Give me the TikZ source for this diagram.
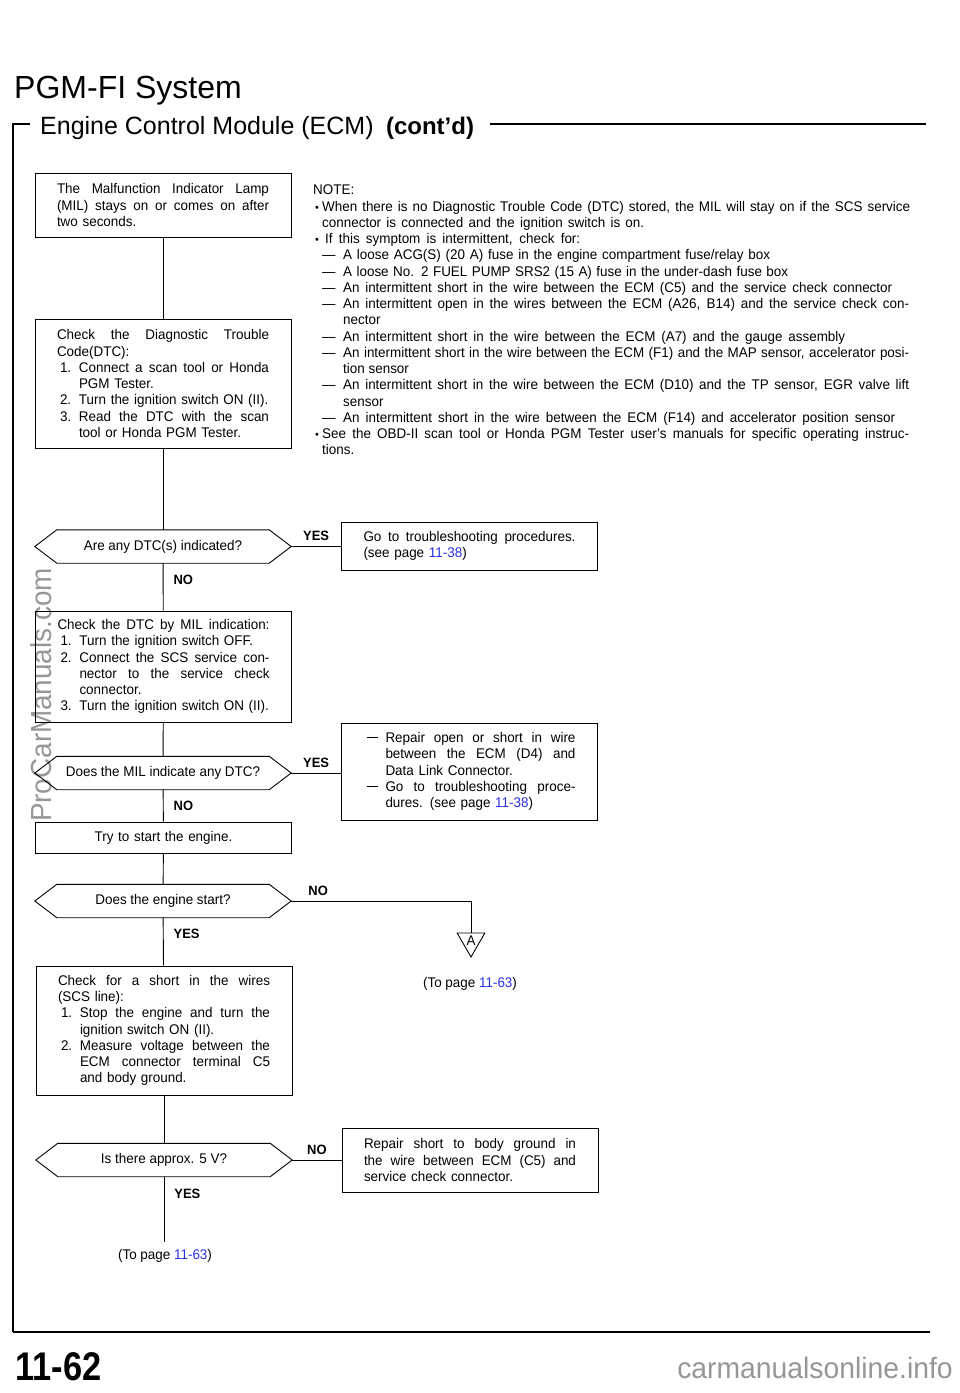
\documentclass[tikz,border=0pt]{standalone}
\usepackage{graphicx}
\usepackage{fontspec}
\setmainfont{Liberation Sans}[FakeStretch=0.96]
\newfontfamily\titlefont{Liberation Sans}
\newfontfamily\pagefont{Liberation Sans}[FakeStretch=0.86]
\usetikzlibrary{shapes.geometric}

\definecolor{pageref}{RGB}{40,50,230}
\definecolor{wmark}{RGB}{150,150,150}

\newlength\stepw
\setlength\stepw{212pt}
\newcommand\pref[1]{\textcolor{pageref}{#1}}
\newcommand\spread[2]{\makebox[#1][s]{\spaceskip=0pt\xspaceskip=0pt #2}}
\newcommand\jline[2][0pt]{\hspace*{#1}\spread{\dimexpr\stepw-#1\relax}{#2}}
\newcommand\jstep[2]{\makebox[22pt][l]{\hspace{3pt}#1}\spread{\dimexpr\stepw-22pt\relax}{#2}}
\newcommand\pstep[2]{\makebox[22pt][l]{\hspace{3pt}#1}#2}
\newcommand\contline[1]{\hspace*{22pt}#1}
\newcommand\dashmark{\rule[0.3em]{11pt}{1.3pt}}
\newcommand\notebullet{\makebox[9pt][l]{\hspace{2pt}\scalebox{0.8}{•}}}
\newcommand\notedash{\hspace*{9pt}\makebox[21pt][l]{—}}
\newcommand\drawhexa[1]{%
  \draw[line width=0.9pt] (#1.west) -- ([xshift=22pt]#1.north west)
    -- ([xshift=-22pt]#1.north east) -- (#1.east)
    -- ([xshift=-22pt]#1.south east) -- ([xshift=22pt]#1.south west) -- cycle;}

\tikzset{
  stepbox/.style={draw, line width=0.9pt, text width=\stepw, inner xsep=22pt,
    inner ysep=4pt, align=left},
  decision/.style={minimum width=256pt, minimum height=33pt, inner sep=0pt},
  flow/.style={line width=0.9pt},
  answer/.style={font=\fontsize{13.5}{14}\selectfont\bfseries, inner sep=2pt}
}

\begin{document}
\begin{tikzpicture}[x=1pt, y=-1pt, font=\fontsize{14}{16.25}\selectfont]
  \useasboundingbox (0,0) rectangle (960,1393);

  % watermarks
  \node[text=wmark, rotate=90, font=\fontsize{29}{29}\selectfont] (procar) at (41,695) {ProCarManuals.com};
  \node[text=wmark, font=\fontsize{29.5}{29.5}\selectfont] (site) at (815,1368) {carmanualsonline.info};

  % heading and frame
  \node[anchor=base west, inner sep=0pt, font=\titlefont\fontsize{32}{32}\selectfont] (system) at (14,98) {PGM-FI System};
  \node[anchor=base west, inner sep=0pt, font=\titlefont\fontsize{25}{25}\selectfont] (section) at (40,134) {Engine Control Module (ECM)};
  \node[anchor=base west, inner sep=0pt, font=\titlefont\bfseries\fontsize{24}{24}\selectfont] (contd) at ([xshift=12pt]section.base east) {(cont’d)};
  \draw[line width=1.6pt] (30,124) -- (13,124) -- (13,1332);
  \draw[line width=1.8pt] (490,124) -- (926,124);
  \draw[line width=2.2pt] (13,1332) -- (930,1332);
  \node[anchor=base west, inner sep=0pt, font=\pagefont\bfseries\fontsize{40}{40}\selectfont] (pageno) at (15,1380) {11-62};

  % note
  \node[anchor=north west, align=left, inner sep=0pt] (note) at (313,185) {%
    NOTE:\\
    \notebullet\spread{588pt}{When there is no Diagnostic Trouble Code (DTC) stored, the MIL will stay on if the SCS service}\\
    \hspace*{9pt}\spread{322pt}{connector is connected and the ignition switch is on.}\\
    \notebullet\hspace*{3pt}\spread{255pt}{If this symptom is intermittent, check for:}\\
    \notedash\spread{427pt}{A loose ACG(S) (20 A) fuse in the engine compartment fuse/relay box}\\
    \notedash\spread{445pt}{A loose No. 2 FUEL PUMP SRS2 (15 A) fuse in the under-dash fuse box}\\
    \notedash\spread{549pt}{An intermittent short in the wire between the ECM (C5) and the service check connector}\\
    \notedash\spread{566pt}{An intermittent open in the wires between the ECM (A26, B14) and the service check con-}\\
    \hspace*{30pt}nector\\
    \notedash\spread{502pt}{An intermittent short in the wire between the ECM (A7) and the gauge assembly}\\
    \notedash\spread{566pt}{An intermittent short in the wire between the ECM (F1) and the MAP sensor, accelerator posi-}\\
    \hspace*{30pt}tion sensor\\
    \notedash\spread{566pt}{An intermittent short in the wire between the ECM (D10) and the TP sensor, EGR valve lift}\\
    \hspace*{30pt}sensor\\
    \notedash\spread{552pt}{An intermittent short in the wire between the ECM (F14) and accelerator position sensor}\\
    \notebullet\spread{587pt}{See the OBD-II scan tool or Honda PGM Tester user's manuals for specific operating instruc-}\\
    \hspace*{9pt}tions.};

  % left column
  \node[stepbox, minimum height=64pt] (mil) at (163,205) {%
    \jline{The Malfunction Indicator Lamp}\\
    \jline{(MIL) stays on or comes on after}\\
    two seconds.};
  \node[stepbox, minimum height=129pt] (checkdtc) at (163,383.5) {%
    \jline{Check the Diagnostic Trouble}\\
    Code(DTC):\\
    \jstep{1.}{Connect a scan tool or Honda}\\
    \contline{PGM Tester.}\\
    \pstep{2.}{Turn the ignition switch ON (II).}\\
    \jstep{3.}{Read the DTC with the scan}\\
    \contline{tool or Honda PGM Tester.}};
  \node[decision] (qdtc) at (163,546.5) {Are any DTC(s) indicated?};
  \node[stepbox, minimum height=111pt] (milcheck) at (163.5,666.5) {%
    \jline{Check the DTC by MIL indication:}\\
    \pstep{1.}{Turn the ignition switch OFF.}\\
    \jstep{2.}{Connect the SCS service con-}\\
    \jline[22pt]{nector to the service check}\\
    \contline{connector.}\\
    \pstep{3.}{Turn the ignition switch ON (II).}};
  \node[decision] (qmil) at (163,773) {Does the MIL indicate any DTC?};
  \node[stepbox, align=center, minimum height=31pt] (trystart) at (163.5,837.5) {Try to start the engine.};
  \node[decision] (qstart) at (163,901) {Does the engine start?};
  \node[stepbox, minimum height=129pt] (shortcheck) at (164,1030.5) {%
    \jline{Check for a short in the wires}\\
    (SCS line):\\
    \jstep{1.}{Stop the engine and turn the}\\
    \contline{ignition switch ON (II).}\\
    \jstep{2.}{Measure voltage between the}\\
    \jline[22pt]{ECM connector terminal C5}\\
    \contline{and body ground.}};
  \node[decision] (qvolt) at (164,1160) {Is there approx. 5 V?};
  \node (topage2) at (165,1256) {(To page \pref{11-63})};

  % right column
  \node[stepbox, minimum height=48pt] (gotrouble) at (469.5,546) {%
    \jline{Go to troubleshooting procedures.}\\
    (see page \pref{11-38})};
  \node[stepbox, minimum height=97pt] (repair) at (469.5,771.5) {%
    \jstep{\dashmark}{Repair open or short in wire}\\
    \jline[22pt]{between the ECM (D4) and}\\
    \contline{Data Link Connector.}\\
    \jstep{\dashmark}{Go to troubleshooting proce-}\\
    \contline{dures. (see page \pref{11-38})}};
  \node[regular polygon, regular polygon sides=3, shape border rotate=180, draw,
    line width=0.9pt, minimum size=32pt, inner sep=0pt,
    font=\fontsize{14}{14}\selectfont] (conA) at (471,941) {A};
  \node (topage1) at (470,984) {(To page \pref{11-63})};
  \node[stepbox, minimum height=64pt] (repairshort) at (470,1160) {%
    \jline{Repair short to body ground in}\\
    \jline{the wire between ECM (C5) and}\\
    service check connector.};

  \drawhexa{qdtc}
  \drawhexa{qmil}
  \drawhexa{qstart}
  \drawhexa{qvolt}

  % connectors
  \draw[flow] (mil) -- (checkdtc);
  \draw[flow] (checkdtc) -- (qdtc);
  \draw[flow] (qdtc.east) -- node[answer, above, yshift=3pt] {YES} (qdtc.east -| gotrouble.west);
  \draw[flow] (qdtc) -- node[answer, right, xshift=8pt, pos=0.35] {NO} (milcheck);
  \draw[flow] (milcheck) -- (qmil);
  \draw[flow] (qmil.east) -- node[answer, above, yshift=3pt] {YES} (qmil.east -| repair.west);
  \draw[flow] (qmil) -- node[answer, right, xshift=8pt] {NO} (trystart);
  \draw[flow] (trystart) -- (qstart);
  \draw[flow] (qstart.east) -| node[answer, above, yshift=3pt, pos=0.075] {NO} (conA);
  \draw[flow] (qstart) -- node[answer, right, xshift=8pt, pos=0.33] {YES} (shortcheck);
  \draw[flow] (shortcheck) -- (qvolt);
  \draw[flow] (qvolt.east) -- node[answer, above, yshift=3pt] {NO} (qvolt.east -| repairshort.west);
  \draw[flow] (qvolt.south) -- node[answer, right, xshift=8pt, pos=0.27] {YES} ([yshift=4pt]qvolt.south |- topage2.north);
\end{tikzpicture}
\end{document}
